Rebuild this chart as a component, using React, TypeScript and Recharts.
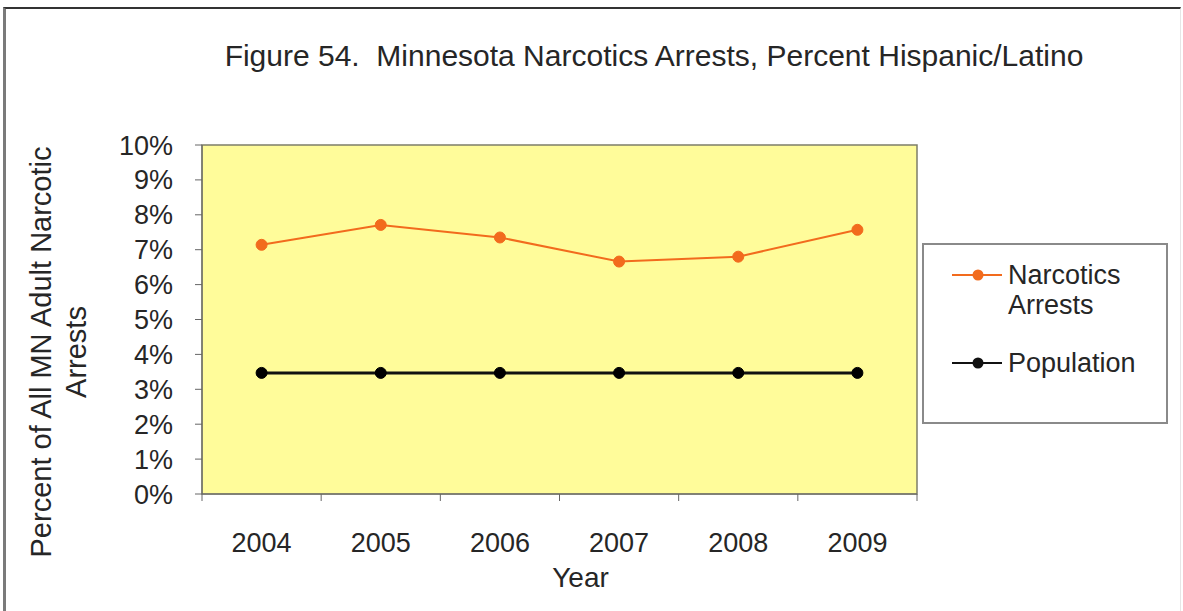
import { CartesianGrid, Legend, Line, LineChart, ReferenceArea, XAxis, YAxis } from "recharts";

const years = [2004, 2005, 2006, 2007, 2008, 2009];
const narcoticsArrests = [7.14, 7.71, 7.35, 6.66, 6.8, 7.57];
const population = [3.47, 3.47, 3.47, 3.47, 3.47, 3.47];
const percentTicks = [0, 1, 2, 3, 4, 5, 6, 7, 8, 9, 10];
const yearEdges = [2003.5, 2004.5, 2005.5, 2006.5, 2007.5, 2008.5, 2009.5];

const data = years.map((year, i) => ({
  year,
  narcotics: narcoticsArrests[i],
  population: population[i]
}));

const FONT = '"Liberation Sans", Arial, sans-serif';
const TEXT = "#262626";
const AXIS = "#666";

function YLabel() {
  return (
    <g fontFamily={FONT} fontSize={29} fill={TEXT} textAnchor="middle">
      <text transform="translate(51,352) rotate(-90)">Percent of All MN Adult Narcotic</text>
      <text transform="translate(86,352) rotate(-90)">Arrests</text>
    </g>
  );
}

function XLabel({ viewBox }: any) {
  const cx = viewBox.x + viewBox.width / 2 + 21;
  return (
    <text x={cx} y={587} fontFamily={FONT} fontSize={28} fill={TEXT} textAnchor="middle">
      Year
    </text>
  );
}

function LegendBox({ payload }: any) {
  return (
    <div
      style={{
        boxSizing: "border-box",
        width: 246,
        height: 181,
        border: "2px solid #8a8a8a",
        background: "#fff",
        paddingTop: 15,
        paddingLeft: 28,
        fontFamily: FONT,
        fontSize: 27,
        lineHeight: "30px",
        color: TEXT
      }}
    >
      {(payload || []).map((item: any, i: number) => (
        <div key={item.value} style={{ display: "flex", alignItems: "flex-start", marginTop: i === 0 ? 0 : 28 }}>
          <svg width={50} height={30} style={{ flex: "none" }}>
            <line x1={0} y1={15} x2={50} y2={15} stroke={item.color} strokeWidth={2} />
            <circle cx={26} cy={15} r={5.5} fill={item.color} />
          </svg>
          <div style={{ marginLeft: 6, width: 130 }}>{item.value}</div>
        </div>
      ))}
    </div>
  );
}

export default function App() {
  return (
    <div style={{ position: "absolute", left: 0, top: 0, width: 1183, height: 611, overflow: "hidden", background: "#fff" }}>
      <div
        style={{
          position: "absolute",
          left: 3,
          top: 7,
          width: 1174,
          height: 640,
          borderLeft: "3px solid #7a7a7a",
          borderTop: "2px solid #333",
          borderRight: "1px solid #e6e6e6"
        }}
      />
      <div
        style={{
          position: "absolute",
          left: 154,
          top: 41,
          width: 1000,
          textAlign: "center",
          whiteSpace: "pre",
          fontFamily: FONT,
          fontSize: 30,
          lineHeight: "30px",
          color: TEXT
        }}
      >
        Figure 54.  Minnesota Narcotics Arrests, Percent Hispanic/Latino
      </div>
      <div style={{ position: "absolute", left: 0, top: 0 }}>
        <LineChart width={1183} height={611} data={data} margin={{ top: 145, right: 266, bottom: 0, left: 0 }}>
          <CartesianGrid horizontal={false} vertical={false} xAxisId="edges" />
          <ReferenceArea
            xAxisId="edges"
            x1={2003.5}
            x2={2009.5}
            y1={0}
            y2={10}
            fill="#FFFC9A"
            fillOpacity={1}
            stroke="#7d7d6a"
            strokeWidth={1.5}
          />
          <XAxis
            xAxisId="edges"
            type="number"
            dataKey="year"
            domain={[2003.5, 2009.5]}
            ticks={yearEdges}
            interval={0}
            height={8}
            tickSize={7}
            stroke={AXIS}
            tick={() => <g />}
          />
          <XAxis
            xAxisId="labels"
            type="number"
            dataKey="year"
            domain={[2003.5, 2009.5]}
            ticks={years}
            interval={0}
            height={109}
            axisLine={false}
            tickLine={false}
            tickSize={0}
            tickMargin={31}
            tick={{ fill: TEXT, fontSize: 27, fontFamily: FONT }}
            label={{ content: XLabel }}
          />
          <YAxis
            domain={[0, 10]}
            ticks={percentTicks}
            interval={0}
            width={202}
            tickSize={7}
            tickMargin={22}
            stroke={AXIS}
            tickFormatter={(v: number) => `${v}%`}
            tick={{ fill: TEXT, fontSize: 27, fontFamily: FONT }}
            label={{ content: YLabel }}
          />
          <Legend
            layout="vertical"
            align="center"
            verticalAlign="middle"
            content={LegendBox}
            wrapperStyle={{ position: "absolute", left: 922, top: 243, width: 246, height: 181 }}
          />
          <Line
            xAxisId="edges"
            dataKey="narcotics"
            name="Narcotics Arrests"
            stroke="#F26B1D"
            strokeWidth={2}
            dot={{ r: 5.5, fill: "#F26B1D", stroke: "#F26B1D", strokeWidth: 1 }}
            isAnimationActive={false}
          />
          <Line
            xAxisId="edges"
            dataKey="population"
            name="Population"
            stroke="#111"
            strokeWidth={3}
            dot={{ r: 5.5, fill: "#000", stroke: "#000", strokeWidth: 1 }}
            isAnimationActive={false}
          />
        </LineChart>
      </div>
    </div>
  );
}
